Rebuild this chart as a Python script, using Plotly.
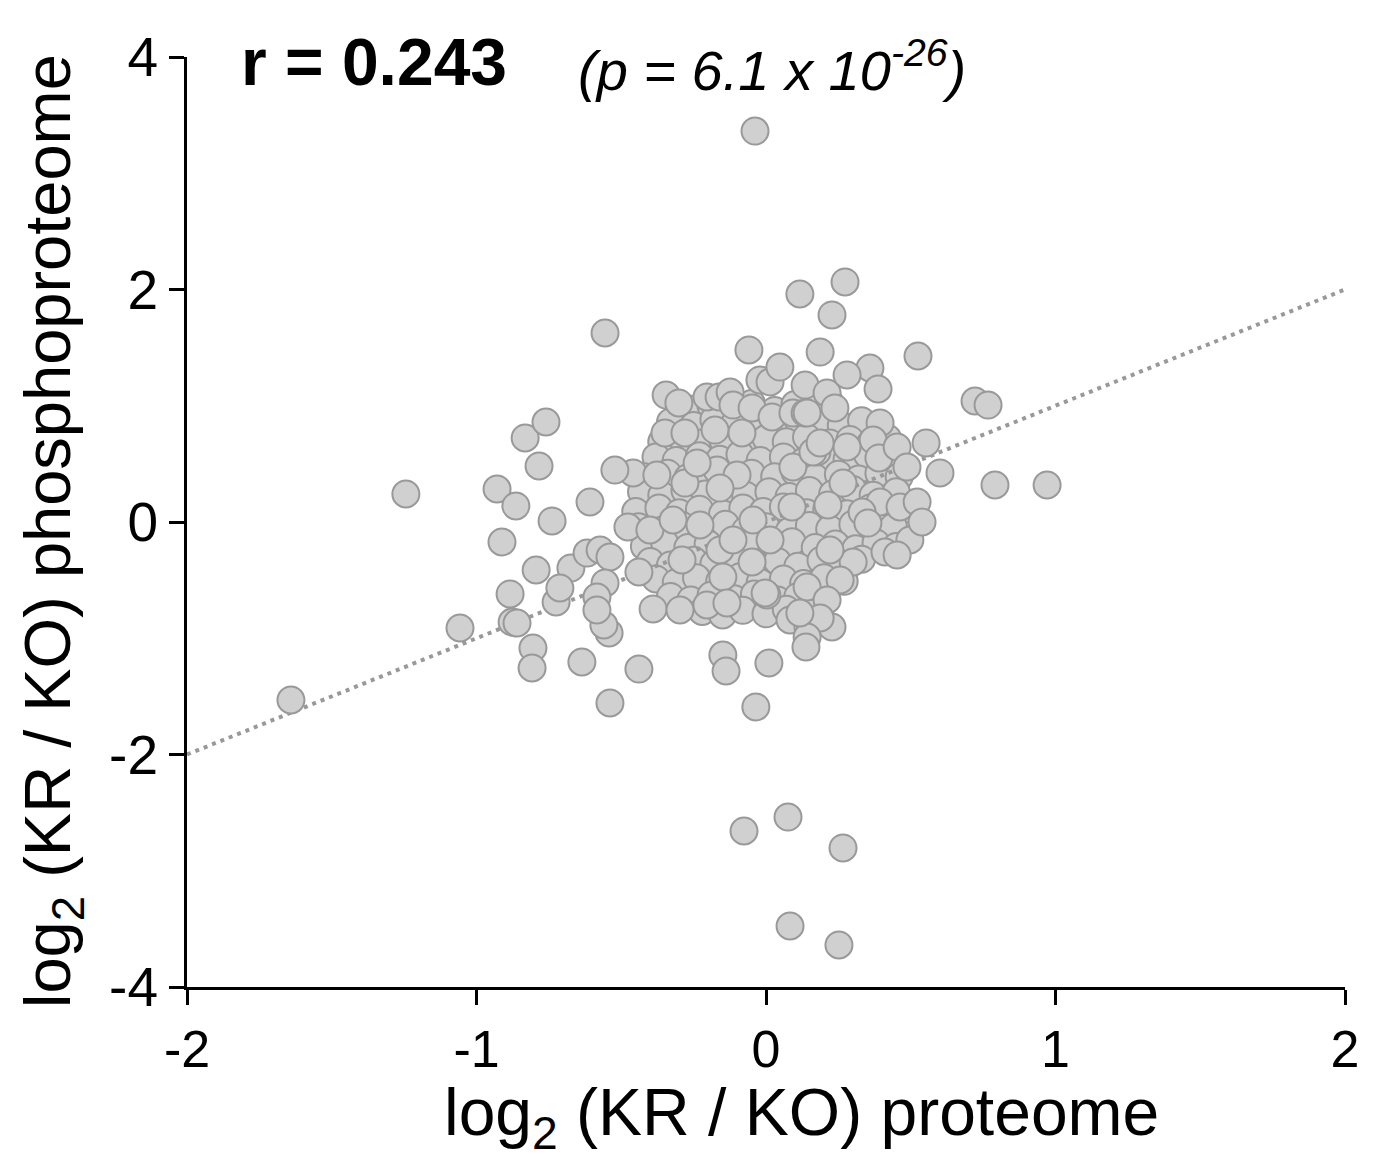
import plotly.graph_objects as go

# isolated / outlying points (log2 proteome, log2 phosphoproteome)
x_out = [-0.038, 0.273, 0.117, 0.228, -0.556, 0.525, -1.244, -1.641, -1.057, -0.929,
         -0.864, -0.832, -0.760, -0.784, -0.739, -0.912, -0.884, -0.877, -0.860, -0.805,
         -0.808, -0.794, -0.674, -0.725, -0.712, -0.636, -0.608, -0.539, -0.542, -0.560,
         -0.439, -0.522, -0.618, -0.573, -0.539, -0.556, -0.584, -0.584, -0.439, -0.390,
         -0.297, -0.076, 0.076, 0.266, 0.083, 0.252, -0.035, 0.010, -0.149, -0.138,
         0.138, 0.722, 0.767, 0.791, 0.971, 0.601, 0.553, 0.539]
y_out = [3.363, 2.065, 1.961, 1.781, 1.626, 1.428, 0.241, -1.531, -0.912, 0.284,
         0.138, 0.723, 0.860, 0.482, 0.009, -0.172, -0.619, -0.860, -0.869, -1.084,
         -1.256, -0.413, -0.396, -0.688, -0.568, -1.204, 0.172, -1.557, -0.955, -0.886,
         -1.265, 0.447, -0.267, -0.241, -0.301, -0.525, -0.645, -0.757, -0.430, -0.748,
         -0.757, -2.658, -2.538, -2.804, -3.475, -3.639, -1.591, -1.213, -1.144, -1.282,
         -1.075, 1.041, 1.006, 0.318, 0.318, 0.422, 0.680, 0.000]

# points on the edge of the central cloud
x_edge = [-0.059, 0.187, 0.359, 0.387, -0.345, -0.301, -0.204, -0.162, -0.124, -0.021,
          0.014, 0.048, 0.135, 0.211, 0.238, 0.280, -0.349, -0.280, -0.176, -0.083,
          -0.114, -0.048, 0.021, 0.093, 0.135, 0.394, 0.370, 0.390, -0.459, -0.377,
          -0.280, -0.169, -0.100, -0.238, 0.176, 0.266, 0.093, 0.394, 0.463, 0.522,
          0.497, 0.411, 0.453, -0.477, -0.401, -0.321, -0.228, -0.045, 0.014, 0.214,
          0.332, 0.352, 0.301, -0.290, -0.159, -0.114, -0.048, -0.149, 0.221, 0.256,
          0.142, 0.211, -0.204, -0.135, 0.003, 0.083, 0.145, 0.228, 0.187, 0.142,
          0.117, -0.003, 0.090, -0.159, 0.162, 0.280, 0.453, 0.487, 0.187, 0.142]
y_edge = [1.480, 1.462, 1.325, 1.144, 1.092, 1.024, 1.075, 1.075, 1.118, 1.222,
          1.204, 1.333, 1.178, 1.110, 0.981, 1.265, 0.766, 0.766, 0.791, 0.766,
          1.006, 0.981, 0.903, 0.938, 0.938, 0.852, 0.705, 0.551, 0.422, 0.404,
          0.335, 0.447, 0.404, 0.508, 0.602, 0.335, 0.473, 0.172, 0.129, 0.172,
          -0.155, -0.258, -0.284, -0.043, -0.069, 0.017, -0.026, 0.017, -0.155, 0.146,
          0.086, -0.009, -0.344, -0.327, -0.241, -0.155, -0.344, -0.473, -0.241, -0.499,
          -0.559, -0.671, -0.714, -0.697, -0.628, -0.843, -0.903, -0.903, -0.826, -0.989,
          -0.783, -0.611, 0.129, 0.292, 0.602, 0.645, 0.645, 0.473, 0.680, 0.938]

# points inside the dense core
x_core = [-0.26, -0.19, -0.12, -0.05, 0.03, 0.10, 0.17, 0.22,
          -0.33, -0.25, -0.18, -0.11, -0.03, 0.04, 0.11, 0.19, 0.26, 0.33,
          -0.36, -0.29, -0.22, -0.15, -0.07, 0.00, 0.07, 0.14, 0.22, 0.29, 0.36, 0.42,
          -0.38, -0.31, -0.23, -0.16, -0.09, -0.02, 0.06, 0.13, 0.21, 0.28, 0.35, 0.42,
          -0.42, -0.34, -0.27, -0.20, -0.12, -0.05, 0.03, 0.10, 0.17, 0.25, 0.32, 0.39, 0.46,
          -0.43, -0.36, -0.28, -0.21, -0.14, -0.07, 0.01, 0.08, 0.15, 0.23, 0.30, 0.37, 0.45,
          -0.45, -0.37, -0.30, -0.23, -0.15, -0.08, -0.01, 0.06, 0.14, 0.21, 0.28, 0.36, 0.43, 0.50,
          -0.44, -0.36, -0.29, -0.22, -0.14, -0.07, 0.00, 0.08, 0.15, 0.22, 0.30, 0.37, 0.44,
          -0.42, -0.35, -0.27, -0.20, -0.13, -0.05, 0.02, 0.09, 0.17, 0.24, 0.31, 0.38, 0.45,
          -0.40, -0.33, -0.25, -0.18, -0.11, -0.03, 0.04, 0.11, 0.19, 0.26, 0.33,
          -0.38, -0.31, -0.24, -0.16, -0.09, -0.02, 0.06, 0.13, 0.20, 0.27,
          -0.33, -0.26, -0.19, -0.11, -0.04, 0.04, 0.11, 0.18,
          -0.22, -0.15, -0.08, 0.00, 0.07, 0.15]
y_core = [0.97, 1.00, 0.95, 1.02, 0.96, 1.01, 0.97, 1.03,
          0.86, 0.83, 0.88, 0.84, 0.87, 0.82, 0.88, 0.85, 0.83, 0.87,
          0.69, 0.72, 0.68, 0.71, 0.67, 0.72, 0.69, 0.73, 0.68, 0.71, 0.67, 0.72,
          0.56, 0.53, 0.57, 0.54, 0.58, 0.53, 0.56, 0.52, 0.57, 0.54, 0.58, 0.53,
          0.39, 0.42, 0.38, 0.41, 0.37, 0.42, 0.39, 0.43, 0.38, 0.41, 0.37, 0.42, 0.39,
          0.26, 0.23, 0.27, 0.24, 0.28, 0.23, 0.26, 0.22, 0.27, 0.24, 0.28, 0.23, 0.26,
          0.09, 0.12, 0.08, 0.11, 0.07, 0.12, 0.09, 0.13, 0.08, 0.11, 0.07, 0.12, 0.09, 0.11,
          -0.04, -0.07, -0.03, -0.06, -0.02, -0.07, -0.04, -0.08, -0.03, -0.06, -0.02, -0.07, -0.04,
          -0.21, -0.18, -0.22, -0.19, -0.23, -0.18, -0.21, -0.17, -0.22, -0.19, -0.23, -0.18, -0.21,
          -0.34, -0.37, -0.33, -0.36, -0.32, -0.37, -0.34, -0.38, -0.33, -0.36, -0.32,
          -0.49, -0.52, -0.48, -0.51, -0.47, -0.52, -0.49, -0.53, -0.48, -0.51,
          -0.64, -0.67, -0.63, -0.66, -0.62, -0.67, -0.64, -0.68,
          -0.77, -0.80, -0.76, -0.79, -0.75, -0.78]

# regression line
fit_x = [-2, 2]
fit_slope = 1.0
fit_intercept = 0.0
fit_y = [fit_intercept + fit_slope * v for v in fit_x]

x_ticks = [-2, -1, 0, 1, 2]
y_ticks = [-4, -2, 0, 2, 4]

FONT = "Arial, 'Liberation Sans', Helvetica, sans-serif"
mk = dict(size=27, color="#d0d0d0", line=dict(color="#999999", width=2))

fig = go.Figure()
fig.add_trace(go.Scatter(x=x_core, y=y_core, mode="markers", marker=mk, showlegend=False))
fig.add_trace(go.Scatter(x=fit_x, y=fit_y, mode="lines", showlegend=False,
                         line=dict(color="#999999", width=4, dash="4px,5px")))
fig.add_trace(go.Scatter(x=x_edge, y=y_edge, mode="markers", marker=mk, showlegend=False))
fig.add_trace(go.Scatter(x=x_out, y=y_out, mode="markers", marker=mk, showlegend=False))

axis_common = dict(showgrid=False, zeroline=False, showline=True, linecolor="black",
                   linewidth=3, ticks="outside", ticklen=15, tickwidth=3, tickcolor="black")

fig.update_xaxes(range=[-2, 2], tickvals=x_ticks, ticktext=[str(v) for v in x_ticks],
                 ticklabelstandoff=0, tickfont=dict(family=FONT, size=52, color="black"),
                 **axis_common)
fig.update_yaxes(range=[-4, 4], tickvals=y_ticks, ticktext=[str(v) for v in y_ticks],
                 ticklabelstandoff=0, tickfont=dict(family=FONT, size=55, color="black"),
                 **axis_common)

# axis titles
fig.add_annotation(xref="paper", yref="paper", x=0.531, y=-0.14, xanchor="center", yanchor="middle",
                   text="log<sub>2</sub> (KR / KO) proteome", showarrow=False,
                   font=dict(family=FONT, size=66, color="black"))
fig.add_annotation(xref="paper", yref="paper", x=-0.116, y=0.49, xanchor="center", yanchor="middle",
                   text="log<sub>2</sub> (KR / KO) phosphoproteome", showarrow=False, textangle=-90,
                   font=dict(family=FONT, size=65, color="black"))

# statistics
fig.add_annotation(xref="paper", yref="paper", x=0.045, y=0.995, xanchor="left", yanchor="middle",
                   text="<b>r = 0.243</b>", showarrow=False,
                   font=dict(family=FONT, size=66, color="black"))
fig.add_annotation(xref="paper", yref="paper", x=0.336, y=0.99, xanchor="left", yanchor="middle",
                   text="<i>(p = 6.1 x 10<sup>-26</sup>)</i>", showarrow=False,
                   font=dict(family=FONT, size=56, color="black"))

# page body adds an 8px offset; compensate so the plot area sits where the reference's does
fig.update_layout(width=1368, height=1157, paper_bgcolor="white", plot_bgcolor="white",
                  margin=dict(l=179, r=31, t=49, b=178), showlegend=False)

fig.write_html("out.html")
